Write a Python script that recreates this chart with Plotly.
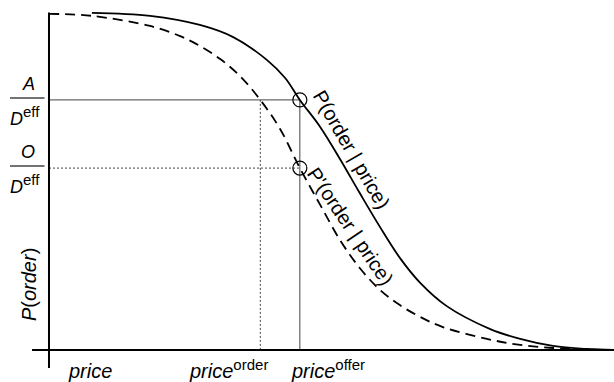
import plotly.graph_objects as go

# ---- data (price in arbitrary units 0..10, probability 0..1) ----
price_solid = [0.76, 1.79, 2.67, 3.26, 3.86, 4.18, 4.44, 4.80, 5.15, 5.50, 5.86, 6.21, 6.57, 7.04, 7.81, 8.34, 8.92, 9.52, 10.0]
p_solid     = [0.999, 0.990, 0.963, 0.927, 0.859, 0.806, 0.741, 0.661, 0.566, 0.465, 0.364, 0.273, 0.199, 0.130, 0.062, 0.033, 0.012, 0.003, 0.0]

price_dashed = [0.0, 0.76, 1.79, 2.32, 2.67, 3.03, 3.38, 3.74, 4.09, 4.44, 4.80, 5.15, 5.50, 5.86, 6.21, 6.57, 6.97, 7.75, 8.34, 8.92, 9.52, 10.0]
p_dashed     = [0.996, 0.990, 0.960, 0.930, 0.901, 0.862, 0.812, 0.741, 0.655, 0.539, 0.430, 0.326, 0.243, 0.178, 0.133, 0.098, 0.068, 0.033, 0.015, 0.006, 0.0015, 0.0]

p_accept = 0.741      # A / D_eff
p_order = 0.539       # O / D_eff
price_order = 3.74
price_offer = 4.44

FONT = "Liberation Sans"
INK = "black"
GUIDE = "#444444"

fig = go.Figure()

# guide lines
fig.add_trace(go.Scatter(x=[0, price_offer, price_offer], y=[p_accept, p_accept, 0],
                         mode="lines", line=dict(color=GUIDE, width=1), hoverinfo="skip"))
fig.add_trace(go.Scatter(x=[0, price_offer], y=[p_order, p_order],
                         mode="lines", line=dict(color=GUIDE, width=1, dash="2px,2px"), hoverinfo="skip"))
fig.add_trace(go.Scatter(x=[price_order, price_order], y=[p_accept, 0],
                         mode="lines", line=dict(color=GUIDE, width=1, dash="2px,2px"), hoverinfo="skip"))

# curves
fig.add_trace(go.Scatter(x=price_solid, y=p_solid, mode="lines",
                         line=dict(color=INK, width=1.8, shape="spline", smoothing=1.0), hoverinfo="skip"))
fig.add_trace(go.Scatter(x=price_dashed, y=p_dashed, mode="lines",
                         line=dict(color=INK, width=1.8, dash="10px,6px", shape="spline", smoothing=1.0),
                         hoverinfo="skip"))

# circles
fig.add_trace(go.Scatter(x=[price_offer, price_offer], y=[p_accept, p_order], mode="markers",
                         marker=dict(symbol="circle-open", size=14, color=INK, line=dict(width=1.2)),
                         hoverinfo="skip"))

# axes (drawn as shapes)
fig.add_shape(type="line", x0=-0.30, x1=10.0, y0=0, y1=0, line=dict(color=INK, width=2))
fig.add_shape(type="line", x0=0, x1=0, y0=-0.053, y1=1.0, line=dict(color=INK, width=2))

# fraction bars
for yv in [p_accept, p_order]:
    fig.add_shape(type="line", x0=-0.69, x1=-0.08, y0=yv + 0.006, y1=yv + 0.006,
                  line=dict(color="#444444", width=1.5))

SUP = '<sup><span style="font-size:15px">{}</span></sup>'

ann = []
for yv, num in [(p_accept, "A"), (p_order, "O")]:
    ann.append(dict(x=-0.37, y=yv, text=f"<i>{num}</i>", showarrow=False, xanchor="center", yanchor="bottom",
                    yshift=4, font=dict(size=18)))
    ann.append(dict(x=-0.42, y=yv, text="<i>D</i>" + SUP.format("eff"), showarrow=False, xanchor="center",
                    yanchor="top", yshift=-1, font=dict(size=18)))

ann.append(dict(x=-0.35, y=0.193, text="<i>P</i>(<i>order</i>)", textangle=-90, showarrow=False,
                font=dict(size=20)))

ann.append(dict(x=0.73, y=0, text="<i>price</i>", showarrow=False, xanchor="center", yanchor="top",
                yshift=-8, font=dict(size=20)))
ann.append(dict(x=price_order, y=0, text="<i>price</i>" + SUP.format("order"), showarrow=False, xanchor="right",
                yanchor="top", xshift=10, yshift=-4, font=dict(size=20)))
ann.append(dict(x=price_offer, y=0, text="<i>price</i>" + SUP.format("offer"), showarrow=False, xanchor="left",
                yanchor="top", xshift=-11, yshift=-4, font=dict(size=20)))

ann.append(dict(x=5.36, y=0.593, text="P(order | price)", textangle=60, showarrow=False, font=dict(size=20)))
ann.append(dict(x=5.33, y=0.367, text="P'(order | price)", textangle=56, showarrow=False, font=dict(size=20)))

fig.update_layout(
    width=614, height=382,
    margin=dict(l=0, r=0, t=0, b=0),
    paper_bgcolor="white", plot_bgcolor="white",
    showlegend=False,
    font=dict(family=FONT, color=INK),
    xaxis=dict(range=[-0.867, 10.0], visible=False, fixedrange=True),
    yaxis=dict(range=[-0.0948, 1.037], visible=False, fixedrange=True),
    annotations=ann,
)

fig.write_html("out.html", config={"displayModeBar": False},
               post_script="document.body.style.margin='0';document.body.style.overflow='hidden';")
